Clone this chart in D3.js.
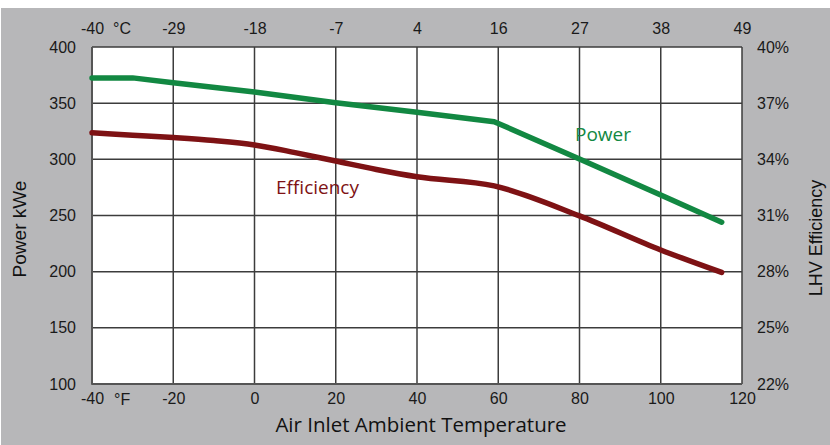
<!DOCTYPE html>
<html><head><meta charset="utf-8">
<script src="https://cdn.jsdelivr.net/npm/d3@7"></script>
<style>
html,body{margin:0;padding:0;background:#fff;}
svg{display:block;}
</style></head>
<body>
<svg id="chart" width="830" height="445"></svg>
<script>
// ---- data ----
const fTicks = [-40, -20, 0, 20, 40, 60, 80, 100, 120];
const cLabels = ["-40", "-29", "-18", "-7", "4", "16", "27", "38", "49"];
const powerTicks = [100, 150, 200, 250, 300, 350, 400];
const effTicks = [22, 25, 28, 31, 34, 37, 40];

const powerTempF = [-40, -30, -20, 0, 20, 40, 59, 80, 100, 115];
const powerKWe   = [372.5, 372.5, 368.2, 360, 350.4, 341.9, 333.5, 300.3, 268.3, 244];

const effTempF = [-40, -30, -20, -10, 0, 10, 20, 30, 40, 59, 80, 100, 115];
const effPct   = [35.42, 35.29, 35.16, 35.0, 34.77, 34.36, 33.91, 33.46, 33.07, 32.58, 30.98, 29.16, 27.96];

// ---- layout ----
const svg = d3.select("#chart");
const L = 92, R = 742, T = 47, B = 384;
const x = d3.scaleLinear([-40, 120], [L, R]);
const yP = d3.scaleLinear([100, 400], [B, T]);
const yE = d3.scaleLinear([22, 40], [B, T]);

svg.append("rect").attr("x", 1).attr("y", 8).attr("width", 829).attr("height", 437).attr("fill", "#b7b7b9");
svg.append("rect").attr("x", L).attr("y", T).attr("width", R - L).attr("height", B - T).attr("fill", "#fff");

const tickFont = "'Liberation Sans', Arial, sans-serif";
const tickSize = 16;
const gridColor = "#3c3c3c";

// vertical grid
svg.append("g").selectAll("line").data(fTicks).join("line")
  .attr("x1", d => x(d)).attr("x2", d => x(d)).attr("y1", T).attr("y2", B)
  .attr("stroke", gridColor).attr("stroke-width", 1.5);
// horizontal grid
svg.append("g").selectAll("line").data(powerTicks).join("line")
  .attr("x1", L).attr("x2", R).attr("y1", d => yP(d)).attr("y2", d => yP(d))
  .attr("stroke", gridColor).attr("stroke-width", 1.5);
// left & bottom border slightly heavier
svg.append("line").attr("x1", L).attr("x2", L).attr("y1", T).attr("y2", B + 0.7).attr("stroke", "#555").attr("stroke-width", 2);
svg.append("line").attr("x1", L).attr("x2", R).attr("y1", B).attr("y2", B).attr("stroke", "#555").attr("stroke-width", 2);

// axes (labels only, via d3 axes)
function styleAxis(g) {
  g.select(".domain").remove();
  g.selectAll(".tick line").remove();
  g.selectAll("text").attr("font-family", tickFont).attr("font-size", tickSize).attr("fill", "#1a1a1a");
}
svg.append("g").attr("transform", `translate(0,${B + 6})`)
  .call(d3.axisBottom(x).tickValues(fTicks).tickSize(0).tickPadding(3).tickFormat(d => String(d)))
  .call(styleAxis);
svg.append("g").attr("transform", `translate(0,${T - 13})`)
  .call(d3.axisTop(x).tickValues(fTicks).tickSize(0).tickPadding(0).tickFormat((d, i) => cLabels[i]))
  .call(styleAxis);
svg.append("g").attr("transform", `translate(${L - 16},0)`)
  .call(d3.axisLeft(yP).tickValues(powerTicks).tickSize(0).tickPadding(0).tickFormat(d => String(d)))
  .call(styleAxis);
svg.append("g").attr("transform", `translate(${R + 15},0)`)
  .call(d3.axisRight(yE).tickValues(effTicks).tickSize(0).tickPadding(0).tickFormat(d => d + "%"))
  .call(styleAxis);

// unit marks
svg.append("text").attr("x", 113).attr("y", 34).attr("font-family", tickFont).attr("font-size", tickSize).attr("fill", "#1a1a1a").text("°C");
svg.append("text").attr("x", 114).attr("y", 404.5).attr("font-family", tickFont).attr("font-size", tickSize).attr("fill", "#1a1a1a").text("°F");

// lines
const powerData = powerTempF.map((t, i) => [t, powerKWe[i]]);
const effData = effTempF.map((t, i) => [t, effPct[i]]);
svg.append("path").datum(powerData)
  .attr("d", d3.line().x(d => x(d[0])).y(d => yP(d[1])))
  .attr("fill", "none").attr("stroke", "#128842").attr("stroke-width", 5.5)
  .attr("stroke-linecap", "round").attr("stroke-linejoin", "round");
svg.append("path").datum(effData)
  .attr("d", d3.line().x(d => x(d[0])).y(d => yE(d[1])).curve(d3.curveMonotoneX))
  .attr("fill", "none").attr("stroke", "#7e1214").attr("stroke-width", 5.5)
  .attr("stroke-linecap", "round").attr("stroke-linejoin", "round");

// series labels
const labFont = "'Open Sans', 'Noto Sans', sans-serif";
svg.append("text").attr("x", 575).attr("y", 140.5).attr("font-family", labFont).attr("font-size", 19).attr("fill", "#128842").text("Power");
svg.append("text").attr("x", 276).attr("y", 194).attr("font-family", labFont).attr("font-size", 19).attr("fill", "#7e1214").text("Efficiency");

// axis titles
svg.append("text").attr("transform", "translate(26,229) rotate(-90)").attr("text-anchor", "middle")
  .attr("font-family", tickFont).attr("font-size", 19).attr("fill", "#111").text("Power kWe");
svg.append("text").attr("transform", "translate(822,238) rotate(-90)").attr("text-anchor", "middle")
  .attr("font-family", tickFont).attr("font-size", 18).attr("fill", "#111").text("LHV Efficiency");
svg.append("text").attr("x", 421).attr("y", 432).attr("text-anchor", "middle")
  .attr("font-family", labFont).attr("font-size", 20.5).attr("fill", "#111").text("Air Inlet Ambient Temperature");
</script>
</body></html>
